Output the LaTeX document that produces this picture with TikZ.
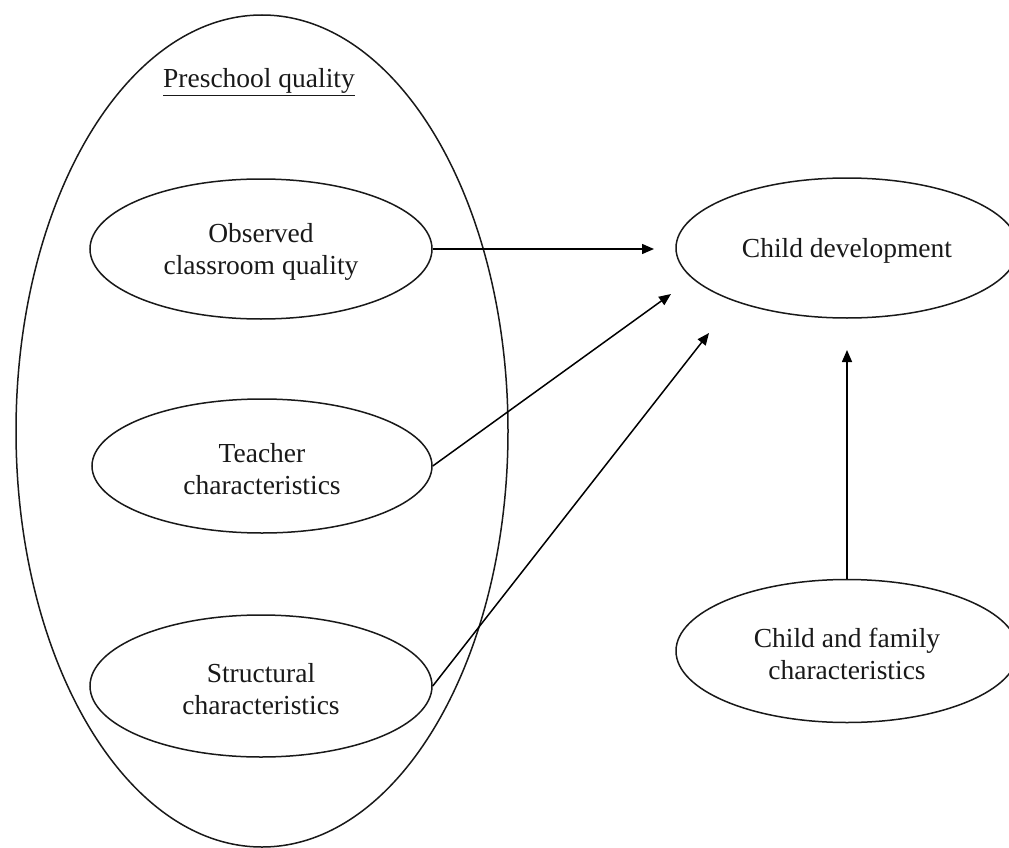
\documentclass[tikz,border=0pt]{standalone}
\usepackage{fontspec}
\setmainfont{Liberation Serif}
\usetikzlibrary{shapes.geometric,arrows.meta}
\begin{document}
\begin{tikzpicture}[x=1pt,y=-1pt,
  every node/.style={font=\fontsize{27.5}{32.5}\selectfont, text=black!90},
  oval/.style={ellipse, draw=black!90, line width=1.5pt, inner sep=0pt},
  txt/.style={label={[align=center, yshift=-3pt]center:#1}},
  link/.style={draw=black, line width=1.5pt, -{Triangle[length=12pt,width=10pt]}}]
\clip (0,0) rectangle (1009,848);
\fill[white] (0,0) rectangle (1009,848);
% outer ellipse
\node[oval, minimum width=492pt, minimum height=832pt] (pq) at (262,431) {};
\node (title) at (259,82) {\underline{Preschool quality}};
% inner ellipses
\node[oval, minimum width=342pt, minimum height=140pt, txt={Observed\\classroom quality}] (obs) at (261,249) {};
\node[oval, minimum width=340pt, minimum height=134pt, txt={Teacher\\characteristics}] (teach) at (262,466) {};
\node[oval, minimum width=342pt, minimum height=142pt, txt={Structural\\characteristics}] (struct) at (261,686) {};
% right ellipses
\node[oval, minimum width=342pt, minimum height=140pt, txt={Child development}] (child) at (847,248) {};
\node[oval, minimum width=342pt, minimum height=143pt, txt={Child and family\\characteristics}] (fam) at (847,651) {};
% arrow ends
\coordinate (t1) at (654,249);
\coordinate (t2) at (671,294);
\coordinate (t3) at (709,333);
\coordinate (t4) at (847,350);
\draw[link] (obs.east) -- (t1);
\draw[link] (teach.east) -- (t2);
\draw[link] (struct.east) -- (t3);
\draw[link] (fam.north) -- (t4);
\end{tikzpicture}
\end{document}
